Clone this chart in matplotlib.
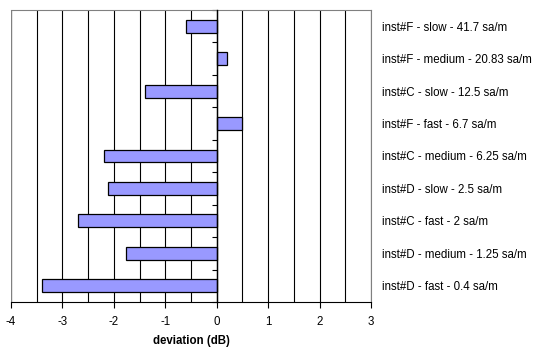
import matplotlib
matplotlib.use('Agg')
from matplotlib import pyplot as plt
from matplotlib.ticker import MultipleLocator, FixedLocator
import numpy as np

# categories listed top to bottom
labels = ['inst#F - slow - 41.7 sa/m',
          'inst#F - medium - 20.83 sa/m',
          'inst#C - slow - 12.5 sa/m',
          'inst#F - fast - 6.7 sa/m',
          'inst#C - medium - 6.25 sa/m',
          'inst#D - slow - 2.5 sa/m',
          'inst#C - fast - 2 sa/m',
          'inst#D - medium - 1.25 sa/m',
          'inst#D - fast - 0.4 sa/m']
deviation = [-0.6, 0.2, -1.4, 0.5, -2.2, -2.12, -2.7, -1.76, -3.4]
xticks = [-4, -3, -2, -1, 0, 1, 2, 3]

plt.rcParams['font.family'] = ['Liberation Sans', 'DejaVu Sans']
plt.rcParams['font.size'] = 8.3

fig = plt.figure(figsize=(5.39, 3.5), dpi=100)
ax = fig.add_axes([11/539, 1-302/350, 360/539, 292/350])

pos = np.arange(len(labels))
ax.barh(pos, deviation, height=0.4, color='#9999FF', edgecolor='black',
        linewidth=0.9, zorder=3)

ax.set_xlim(-4, 3)
ax.set_ylim(len(labels)-0.5, -0.5)
ax.set_xticks(xticks)
ax.set_xticklabels([str(t) for t in xticks])
ax.xaxis.set_minor_locator(MultipleLocator(0.5))
ax.tick_params(axis='x', which='major', direction='out', length=4,
               width=0.8, pad=6)
ax.tick_params(axis='x', which='minor', length=0)
ax.grid(axis='x', which='both', color='black', linewidth=0.8, zorder=1)
ax.set_axisbelow(True)

# category labels on the right, boundary ticks on the zero axis
ax.set_yticks(pos)
ax.set_yticklabels(labels)
ax.yaxis.set_minor_locator(FixedLocator(np.arange(-0.5, len(labels), 1.0)))
ax.tick_params(axis='y', which='major', left=False, right=True,
               labelleft=False, labelright=True, length=0, pad=8)
ax.tick_params(axis='y', which='minor', left=True, right=False,
               direction='out', length=3.5, width=0.8)

ax.spines['left'].set_position(('data', 0))
ax.spines['left'].set_color('black')
ax.spines['left'].set_linewidth(1.0)
ax.spines['left'].set_zorder(4)
ax.spines['top'].set_color('#808080')
ax.spines['right'].set_color('#808080')
ax.spines['bottom'].set_color('black')
# outer frame edge on the left
ax.axvline(ax.get_xlim()[0], color='#808080', linewidth=1.6, zorder=2)

ax.set_xlabel('deviation (dB)', fontweight='bold', labelpad=5)

plt.savefig('out.png', dpi=100)
